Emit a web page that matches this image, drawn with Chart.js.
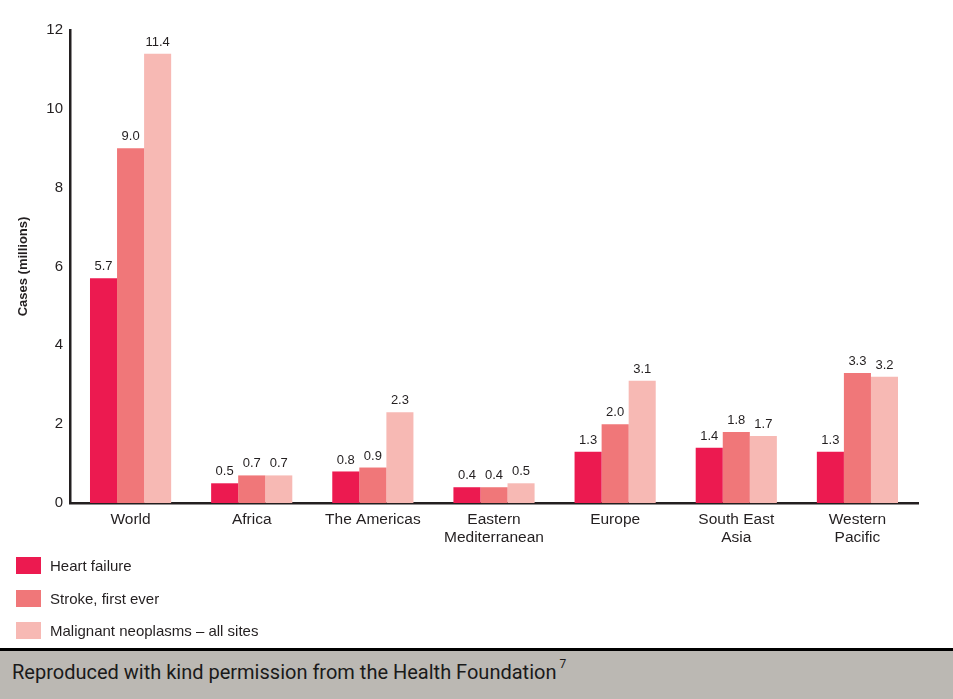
<!DOCTYPE html>
<html><head><meta charset="utf-8">
<script src="https://cdn.jsdelivr.net/npm/chart.js@4"></script>
<style>
html,body{margin:0;padding:0;background:#fff;width:953px;height:699px;overflow:hidden;font-family:"Liberation Sans",Arial,sans-serif;}
#wrap{position:absolute;left:0;top:0;width:953px;height:550px;}
#legend{position:absolute;left:16px;top:549px;}
.li{height:32.7px;display:flex;align-items:center;font-size:15px;color:#231f20;}
.sw{width:25px;height:17px;margin-right:9px;}
#rule{position:absolute;left:0;top:648px;width:953px;height:3px;background:#000;}
#foot{position:absolute;left:0;top:651px;width:953px;height:48px;background:#bbb8b3;}
#foot span{position:absolute;left:12px;top:9px;font-family:Roboto,"Liberation Sans",sans-serif;font-size:20px;color:#1a1a1a;}
#foot sup{font-size:12px;vertical-align:top;position:relative;top:-3px;margin-left:3px;}
</style></head><body>
<div id="wrap"><canvas id="c" width="953" height="550"></canvas></div>
<div id="legend"></div>
<div id="rule"></div>
<div id="foot"><span>Reproduced with kind permission from the Health Foundation<sup>7</sup></span></div>
<script>
const categories = ["World", "Africa", "The Americas", ["Eastern","Mediterranean"], "Europe", ["South East","Asia"], ["Western","Pacific"]];
const seriesNames = ["Heart failure", "Stroke, first ever", "Malignant neoplasms \u2013 all sites"];
const heartFailure = [5.7, 0.5, 0.8, 0.4, 1.3, 1.4, 1.3];
const stroke = [9.0, 0.7, 0.9, 0.4, 2.0, 1.8, 3.3];
const neoplasms = [11.4, 0.7, 2.3, 0.5, 3.1, 1.7, 3.2];
const colors = ["#ec1a50", "#f07779", "#f7b9b4"];
const yTicks = [0, 2, 4, 6, 8, 10, 12];

const legend = document.getElementById('legend');
seriesNames.forEach((n,i)=>{
  const d=document.createElement('div');d.className='li';
  d.innerHTML='<div class="sw" style="background:'+colors[i]+'"></div><span>'+n+'</span>';
  legend.appendChild(d);
});

const FONT='"Liberation Sans", Arial, sans-serif';
const valueLabels = {
  id:'valueLabels',
  afterDatasetsDraw(chart){
    const ctx=chart.ctx;
    ctx.save();
    ctx.font='13px '+FONT;
    ctx.fillStyle='#231f20';
    ctx.textAlign='center';
    ctx.textBaseline='bottom';
    chart.data.datasets.forEach((ds,di)=>{
      chart.getDatasetMeta(di).data.forEach((bar,i)=>{
        ctx.fillText(ds.data[i].toFixed(1), bar.x, bar.y-5);
      });
    });
    ctx.restore();
  }
};

new Chart(document.getElementById('c'),{
  type:'bar',
  data:{labels:categories,datasets:[
    {label:seriesNames[0],data:heartFailure,backgroundColor:colors[0]},
    {label:seriesNames[1],data:stroke,backgroundColor:colors[1]},
    {label:seriesNames[2],data:neoplasms,backgroundColor:colors[2]}
  ]},
  options:{
    responsive:false,animation:false,
    datasets:{bar:{categoryPercentage:0.67,barPercentage:1.0}},
    layout:{padding:{left:0,right:35,top:30,bottom:0}},
    plugins:{legend:{display:false},tooltip:{enabled:false}},
    scales:{
      x:{
        grid:{display:false,drawTicks:false},
        border:{display:true,color:'#231f20',width:2.5},
        ticks:{color:'#231f20',font:{family:FONT,size:15.5,lineHeight:1.15},padding:8,maxRotation:0,autoSkip:false},
        afterFit(s){s.height=47;}
      },
      y:{
        min:0,max:12,
        afterBuildTicks(s){s.ticks=yTicks.map(v=>({value:v}));},
        grid:{display:false,drawTicks:false},
        border:{display:true,color:'#231f20',width:2.5},
        ticks:{color:'#231f20',font:{family:FONT,size:15},padding:7},
        title:{display:true,text:'Cases (millions)',color:'#231f20',font:{family:FONT,size:13,weight:'bold'},padding:{top:16,bottom:0}},
        afterFit(s){s.width=70;}
      }
    }
  },
  plugins:[valueLabels]
});
</script>
</body></html>
